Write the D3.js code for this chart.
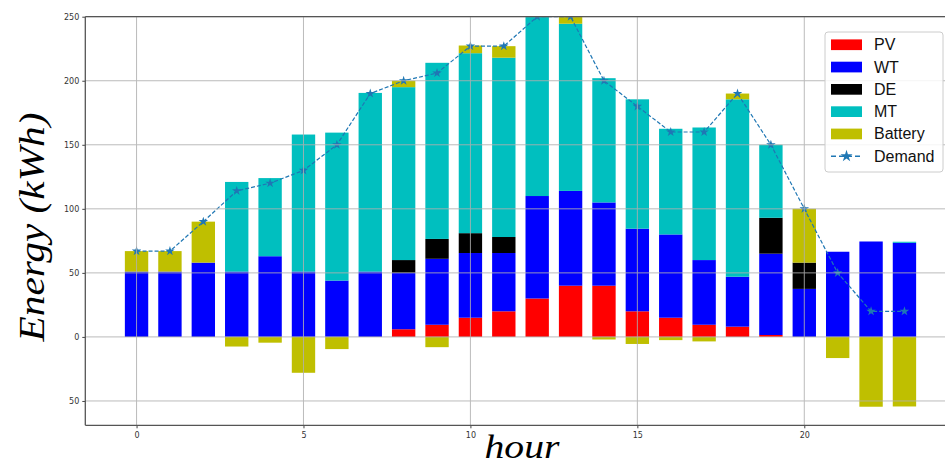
<!DOCTYPE html>
<html>
<head>
<meta charset="utf-8">
<script src="https://cdn.jsdelivr.net/npm/d3@7"></script>
<style>
  body { margin: 0; background: #fff; }
  svg { display: block; }
</style>
</head>
<body>
<svg width="945" height="466"></svg>
<script>
// hourly energy mix (kWh)
const hours = d3.range(24);
const pv      = [0, 0, 0, 0, 0, 0, 0, 0, 6, 9.5, 15, 20, 30, 40, 40, 20, 15, 9.5, 8, 1.5, 0, 0, 0, 0];
const wt      = [51, 51, 58, 51, 63, 51, 44, 51, 44, 51.5, 50.5, 45.5, 80, 74, 65, 64.5, 65, 50.5, 39, 63.5, 37.5, 66.5, 74.5, 73.5];
const de      = [0, 0, 0, 0, 0, 0, 0, 0, 10, 15.5, 15.5, 12.5, 0, 0, 0, 0, 0, 0, 0, 28, 20.5, 0, 0, 0];
const mt      = [0, 0, 0, 70, 61, 107, 115.5, 139.5, 135, 137.5, 140.5, 140, 140, 130.5, 97, 101, 82.5, 103.5, 138.5, 57, 0, 0, 0, 0.8];
const battery = [16, 16, 32, -7.5, -4.5, -28, -9.5, 0, 5, -8, 6, 9, 0, 5.5, -2, -5.5, -2.5, -3.5, 4.5, 0, 42, -16.5, -54.5, -54.3];
const demand  = [67, 67, 90, 114, 120, 130, 150, 190, 200, 206, 227, 227, 250, 250, 200, 180, 160, 160, 190, 150, 100, 50, 20, 20];

const seriesNames = ["PV", "WT", "DE", "MT", "Battery"];
const seriesColors = ["#ff0000", "#0000ff", "#000000", "#00bfbf", "#bfbf00"];
const xTicks = [0, 5, 10, 15, 20];
const yTicks = [-50, 0, 50, 100, 150, 200, 250];

const svg = d3.select("svg");
const plotL = 85.3, plotR = 955.7, plotT = 16.7, plotB = 425.3;

const x = d3.scaleLinear().domain([-1.535, 24.535]).range([plotL, plotR]);
const y = d3.scaleLinear().domain([-69, 250]).range([plotB, plotT]);
const barW = x(0.7) - x(0);

svg.append("defs").append("clipPath").attr("id", "plot")
    .append("rect").attr("x", plotL).attr("y", plotT)
    .attr("width", plotR - plotL).attr("height", plotB - plotT);

// stack the positive sources, battery discharge on top, charging below zero
const rows = hours.map(function(h) {
    const vals = [pv[h], wt[h], de[h], mt[h]];
    let base = 0;
    const segs = vals.map(function(v, i) {
        const s = { h: h, i: i, y0: base, y1: base + v };
        base += v;
        return s;
    });
    const b = battery[h];
    segs.push(b >= 0 ? { h: h, i: 4, y0: base, y1: base + b } : { h: h, i: 4, y0: b, y1: 0 });
    return segs;
});

const plot = svg.append("g").attr("clip-path", "url(#plot)");

plot.selectAll("g.hour").data(rows).join("g").attr("class", "hour")
    .selectAll("rect").data(function(d) { return d.filter(function(s) { return s.y1 - s.y0 > 0; }); })
    .join("rect")
    .attr("x", function(s) { return x(s.h) - barW / 2; })
    .attr("width", barW)
    .attr("y", function(s) { return y(s.y1); })
    .attr("height", function(s) { return y(s.y0) - y(s.y1); })
    .attr("fill", function(s) { return seriesColors[s.i]; });

// grid sits over the bars
const grid = svg.append("g").attr("stroke", "#b0b0b0").attr("stroke-width", 1).attr("opacity", 0.85);
grid.selectAll("line.gx").data(xTicks).join("line").attr("class", "gx")
    .attr("x1", function(d) { return x(d); }).attr("x2", function(d) { return x(d); })
    .attr("y1", plotT).attr("y2", plotB);
grid.selectAll("line.gy").data(yTicks).join("line").attr("class", "gy")
    .attr("y1", function(d) { return y(d); }).attr("y2", function(d) { return y(d); })
    .attr("x1", plotL).attr("x2", plotR);

// demand line
const line = d3.line().x(function(d, i) { return x(hours[i]); }).y(function(d) { return y(d); });
plot.append("path").datum(demand)
    .attr("d", line).attr("fill", "none")
    .attr("stroke", "#1f77b4").attr("stroke-width", 1.2)
    .attr("stroke-dasharray", "4,2");
const star = d3.symbol().type(d3.symbolStar).size(28);
plot.selectAll("path.star").data(demand).join("path").attr("class", "star")
    .attr("d", star)
    .attr("transform", function(d, i) { return "translate(" + x(hours[i]) + "," + y(d) + ")"; })
    .attr("fill", "#1f77b4");

// axes
const xAxis = d3.axisBottom(x).tickValues(xTicks).tickSize(3).tickPadding(4);
const yAxis = d3.axisLeft(y).tickValues(yTicks).tickSize(3).tickPadding(3)
    .tickFormat(function(d) { return String(Math.abs(d)); });

const gx = svg.append("g").attr("transform", "translate(0," + plotB + ")").call(xAxis);
const gy = svg.append("g").attr("transform", "translate(" + plotL + ",0)").call(yAxis);
[gx, gy].forEach(function(g) {
    g.select(".domain").remove();
    g.selectAll(".tick line").attr("stroke", "#444");
    g.selectAll(".tick text").attr("fill", "#333")
        .style("font-family", "DejaVu Sans").style("font-size", "8px");
});

// spines
const spine = svg.append("g").attr("stroke", "#555").attr("stroke-width", 1.3);
spine.append("line").attr("x1", plotL).attr("x2", plotL).attr("y1", plotT).attr("y2", plotB);
spine.append("line").attr("x1", plotL).attr("x2", plotR).attr("y1", plotB).attr("y2", plotB);
spine.append("line").attr("x1", plotL).attr("x2", plotR).attr("y1", plotT).attr("y2", plotT);

// axis titles
svg.append("text")
    .attr("transform", "translate(44,227) rotate(-90)")
    .attr("text-anchor", "middle")
    .attr("textLength", 229).attr("lengthAdjust", "spacingAndGlyphs")
    .style("font-family", "Liberation Serif").style("font-style", "italic").style("font-size", "36px")
    .text("Energy (kWh)");
svg.append("text")
    .attr("x", 522).attr("y", 458)
    .attr("text-anchor", "middle")
    .attr("textLength", 75).attr("lengthAdjust", "spacingAndGlyphs")
    .style("font-family", "Liberation Serif").style("font-style", "italic").style("font-size", "33px")
    .text("hour");

// legend
const lg = svg.append("g").attr("transform", "translate(825,32)");
lg.append("rect").attr("width", 118).attr("height", 140).attr("rx", 3)
    .attr("fill", "#fff").attr("fill-opacity", 0.85).attr("stroke", "#ccc");
const entries = seriesNames.concat(["Demand"]);
const item = lg.selectAll("g.item").data(entries).join("g").attr("class", "item")
    .attr("transform", function(d, i) { return "translate(6," + (12.7 + i * 22.3) + ")"; });
item.filter(function(d, i) { return i < 5; }).append("rect")
    .attr("x", 0).attr("y", -5.3).attr("width", 31).attr("height", 10.7)
    .attr("fill", function(d, i) { return seriesColors[i]; });
const dem = item.filter(function(d) { return d === "Demand"; });
dem.append("line").attr("x1", 0).attr("x2", 31).attr("y1", 0).attr("y2", 0)
    .attr("stroke", "#1f77b4").attr("stroke-width", 1.6).attr("stroke-dasharray", "5,3");
dem.append("path").attr("d", d3.symbol().type(d3.symbolStar).size(45))
    .attr("transform", "translate(15.5,0)").attr("fill", "#1f77b4");
item.append("text").attr("x", 43).attr("y", 5.5)
    .style("font-family", "Liberation Sans").style("font-size", "16px").attr("fill", "#111")
    .text(function(d) { return d; });
</script>
</body>
</html>
